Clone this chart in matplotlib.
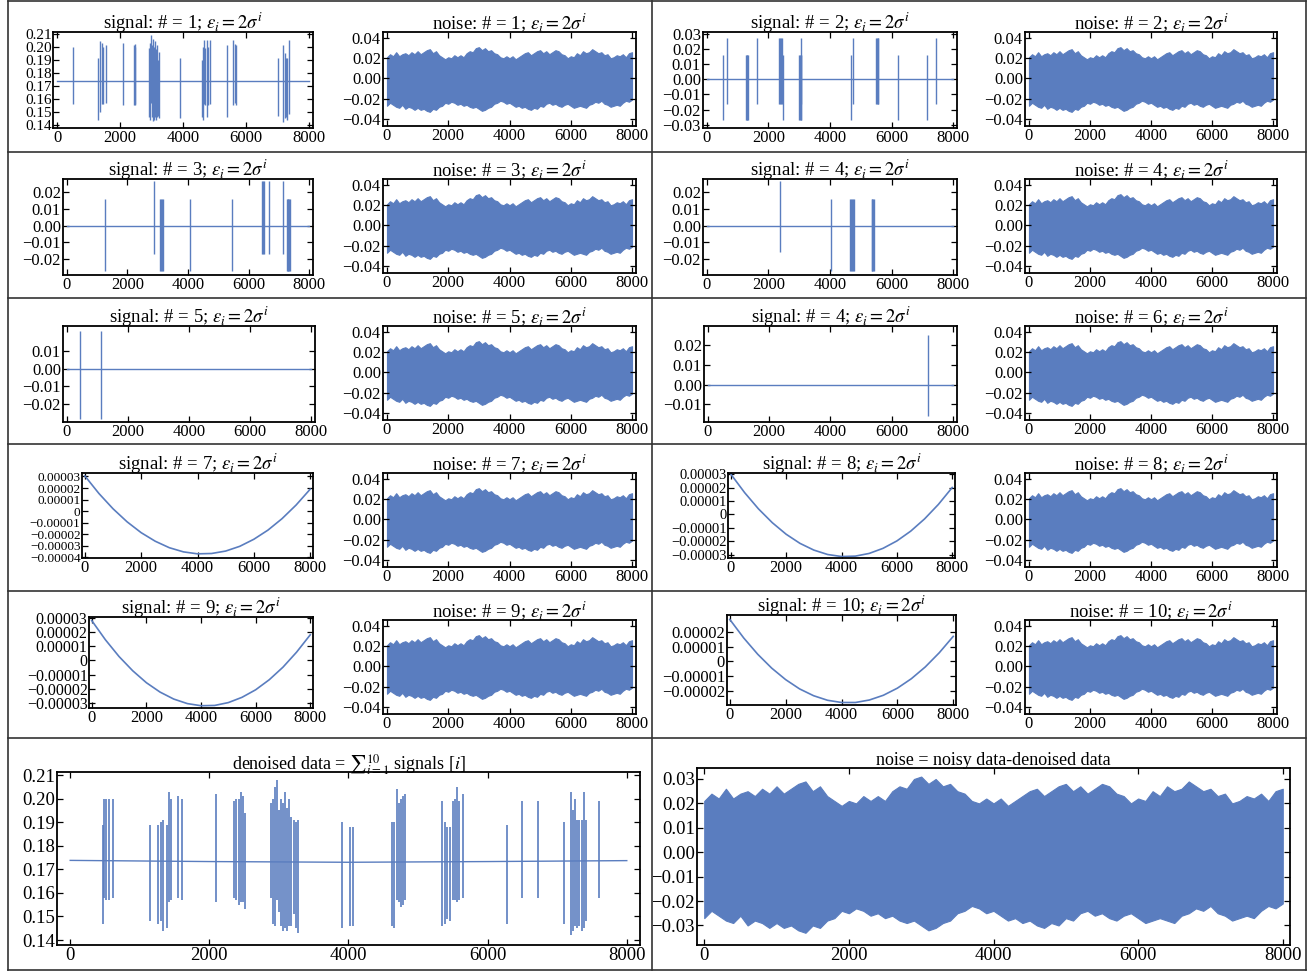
import matplotlib
matplotlib.use("Agg")
import matplotlib.pyplot as plt
from matplotlib.lines import Line2D

plt.rcParams['font.family'] = ['Liberation Serif', 'DejaVu Serif']
plt.rcParams['mathtext.fontset'] = 'stix'

W, H = 1316, 972
BLUE = '#5A7DBF'

# ---------------- data ----------------
x_ticks = [0, 2000, 4000, 6000, 8000]
x_tick_labels = ['0', '2000', '4000', '6000', '8000']

# signal 1 (spikes: position, top, bottom), baseline level
sig1_base = 0.1733
sig1_x = [493, 1312, 1365, 1417, 1470, 1564, 2100, 2436, 2460, 2488, 2929, 2960, 2990, 3020, 3050, 3080,
          3110, 3140, 3170, 3200, 3223, 3905, 4609, 4640, 4680, 4710, 4750, 4790, 4850, 5407, 5585, 5640,
          5690, 7003, 7192, 7230, 7270, 7310, 7370]
sig1_top = [0.200, 0.191, 0.204, 0.203, 0.200, 0.201, 0.203, 0.201, 0.202, 0.200, 0.199, 0.203, 0.209, 0.201,
            0.206, 0.200, 0.204, 0.198, 0.201, 0.190, 0.196, 0.191, 0.190, 0.200, 0.205, 0.199, 0.205, 0.200,
            0.205, 0.201, 0.205, 0.202, 0.201, 0.191, 0.201, 0.195, 0.191, 0.191, 0.205]
sig1_bot = [0.156, 0.144, 0.150, 0.156, 0.156, 0.157, 0.155, 0.155, 0.156, 0.155, 0.146, 0.144, 0.157, 0.146,
            0.143, 0.144, 0.146, 0.144, 0.146, 0.147, 0.145, 0.145, 0.146, 0.144, 0.156, 0.155, 0.146, 0.155,
            0.156, 0.146, 0.155, 0.157, 0.155, 0.147, 0.142, 0.145, 0.146, 0.144, 0.148]
sig1_ticks = [0.14, 0.15, 0.16, 0.17, 0.18, 0.19, 0.20, 0.21]
sig1_labels = ['0.14', '0.15', '0.16', '0.17', '0.18', '0.19', '0.20', '0.21']

sig2_x = [512, 640, 1270, 1290, 1310, 1333, 1621, 2347, 2375, 2405, 2432, 2485, 3008, 3030, 3050, 3061,
          3072, 4672, 4736, 5504, 5525, 5546, 5568, 6208, 7147, 7445]
sig2_top = [0.016, 0.027, 0.016, 0.016, 0.016, 0.016, 0.027, 0.027, 0.027, 0.027, 0.027, 0.016, 0.016, 0.016,
            0.016, 0.027, 0.016, 0.016, 0.027, 0.027, 0.027, 0.027, 0.027, 0.016, 0.016, 0.027]
sig2_bot = [-0.027, -0.016, -0.027, -0.027, -0.027, -0.027, -0.016, -0.016, -0.016, -0.016, -0.016, -0.027,
            -0.027, -0.027, -0.027, -0.016, -0.027, -0.027, -0.016, -0.016, -0.016, -0.016, -0.016, -0.027,
            -0.027, -0.016]
sig2_ticks = [-0.03, -0.02, -0.01, 0.0, 0.01, 0.02, 0.03]
sig2_labels = ['\u22120.03', '\u22120.02', '\u22120.01', '0.00', '0.01', '0.02', '0.03']

sig3_x = [1255, 2893, 3090, 3120, 3150, 3177, 4072, 5459, 6452, 6480, 6507, 6670, 7129, 7260, 7290, 7320,
          7350, 7380]
sig3_top = [0.016, 0.027, 0.016, 0.016, 0.016, 0.016, 0.016, 0.016, 0.027, 0.027, 0.027, 0.027, 0.027, 0.016,
            0.016, 0.016, 0.016, 0.016]
sig3_bot = [-0.027, -0.017, -0.027, -0.027, -0.027, -0.027, -0.027, -0.027, -0.017, -0.017, -0.017, -0.017,
            -0.017, -0.027, -0.027, -0.027, -0.027, -0.027]
sig34_ticks = [-0.02, -0.01, 0.0, 0.01, 0.02]
sig34_labels = ['\u22120.02', '\u22120.01', '0.00', '0.01', '0.02']

sig4_x = [2363, 4026, 4662, 4690, 4720, 4750, 4790, 5351, 5380, 5410, 5436]
sig4_top = [0.027, 0.016, 0.016, 0.016, 0.016, 0.016, 0.016, 0.016, 0.016, 0.016, 0.016]
sig4_bot = [-0.016, -0.027, -0.027, -0.027, -0.027, -0.027, -0.027, -0.027, -0.027, -0.027, -0.027]

sig5_x = [443, 1113]
sig5_top = [0.0215, 0.0215]
sig5_bot = [-0.0285, -0.0285]
sig5_ticks = [-0.02, -0.01, 0.0, 0.01]
sig5_labels = ['\u22120.02', '\u22120.01', '0.00', '0.01']

sig6_x = [7184]
sig6_top = [0.025]
sig6_bot = [-0.0158]
sig6_ticks = [-0.01, 0.0, 0.01, 0.02]
sig6_labels = ['\u22120.01', '0.00', '0.01', '0.02']

# smooth signals 7-10 (values in units of 1e-5) read at x = 0, 500, ..., 8000
smooth_x = [0, 500, 1000, 1500, 2000, 2500, 3000, 3500, 4000, 4500, 5000, 5500, 6000, 6500, 7000, 7500, 8000]
sig7_y = [3.05, 1.53, 0.21, -0.92, -1.86, -2.60, -3.16, -3.52, -3.69, -3.66, -3.45, -3.04, -2.43, -1.64,
          -0.65, 0.53, 1.90]
sig8_y = [3.00, 1.62, 0.41, -0.62, -1.48, -2.16, -2.66, -2.99, -3.14, -3.11, -2.91, -2.53, -1.98, -1.25,
          -0.34, 0.74, 2.00]
sig9_y = [2.80, 1.45, 0.27, -0.73, -1.57, -2.23, -2.72, -3.04, -3.19, -3.17, -2.97, -2.60, -2.07, -1.36,
          -0.48, 0.58, 1.80]
sig10_y = [2.85, 1.59, 0.49, -0.45, -1.23, -1.86, -2.32, -2.63, -2.78, -2.78, -2.61, -2.29, -1.81, -1.17,
           -0.37, 0.59, 1.70]

# noise envelope (upper / lower) at x = 0, 100, ..., 8000
noise_x = list(range(0, 8001, 100))
noise_hi = [0.021, 0.024, 0.022, 0.026, 0.022, 0.024, 0.025, 0.023, 0.026, 0.024,
            0.027, 0.024, 0.026, 0.028, 0.029, 0.025, 0.027, 0.023, 0.021, 0.019,
            0.021, 0.020, 0.023, 0.021, 0.023, 0.021, 0.025, 0.027, 0.026, 0.030,
            0.031, 0.028, 0.030, 0.027, 0.028, 0.025, 0.024, 0.021, 0.020, 0.022,
            0.020, 0.022, 0.019, 0.021, 0.023, 0.025, 0.026, 0.023, 0.025, 0.027,
            0.028, 0.025, 0.027, 0.024, 0.026, 0.028, 0.027, 0.024, 0.023, 0.020,
            0.022, 0.021, 0.025, 0.023, 0.027, 0.025, 0.026, 0.029, 0.027, 0.025,
            0.026, 0.023, 0.024, 0.020, 0.021, 0.023, 0.022, 0.024, 0.021, 0.025,
            0.026]
noise_lo = [-0.027, -0.024, -0.026, -0.028, -0.029, -0.026, -0.030, -0.028, -0.029, -0.031,
            -0.029, -0.031, -0.030, -0.032, -0.033, -0.030, -0.031, -0.028, -0.027, -0.024,
            -0.025, -0.023, -0.024, -0.026, -0.025, -0.027, -0.026, -0.028, -0.029, -0.028,
            -0.030, -0.032, -0.031, -0.029, -0.028, -0.025, -0.024, -0.022, -0.023, -0.025,
            -0.024, -0.026, -0.028, -0.027, -0.029, -0.028, -0.030, -0.031, -0.029, -0.030,
            -0.027, -0.028, -0.025, -0.024, -0.026, -0.025, -0.027, -0.028, -0.026, -0.025,
            -0.027, -0.029, -0.028, -0.027, -0.028, -0.029, -0.026, -0.025, -0.023, -0.024,
            -0.022, -0.025, -0.026, -0.028, -0.027, -0.026, -0.027, -0.024, -0.022, -0.023,
            -0.021]
noise_ticks = [-0.04, -0.02, 0.0, 0.02, 0.04]
noise_labels = ['\u22120.04', '\u22120.02', '0.00', '0.02', '0.04']
noise_big_ticks = [-0.03, -0.02, -0.01, 0.0, 0.01, 0.02, 0.03]
noise_big_labels = ['\u22120.03', '\u22120.02', '\u22120.01', '0.00', '0.01', '0.02', '0.03']

# denoised data: baseline and spikes
den_base_x = [0, 2000, 4000, 6000, 8000]
den_base_y = [0.1738, 0.1733, 0.1730, 0.1733, 0.1737]
den_x = [465, 490, 520, 555, 615, 1140, 1260, 1300, 1340, 1390, 1420, 1450, 1550, 1610, 2090, 2360, 2390,
         2420, 2450, 2480, 2510, 2890, 2910, 2940, 2970, 3000, 3030, 3060, 3090, 3120, 3150, 3180, 3210,
         3240, 3270, 3900, 4020, 4060, 4620, 4650, 4690, 4720, 4750, 4780, 4810, 5350, 5390, 5420, 5460,
         5500, 5530, 5560, 5590, 5640, 6280, 6490, 6730, 7100, 7200, 7230, 7260, 7290, 7320, 7350, 7380,
         7410, 7600]
den_top = [0.189, 0.200, 0.200, 0.200, 0.200, 0.189, 0.189, 0.190, 0.191, 0.189, 0.203, 0.200, 0.201, 0.200,
           0.202, 0.199, 0.200, 0.200, 0.203, 0.201, 0.194, 0.198, 0.200, 0.205, 0.208, 0.195, 0.200, 0.198,
           0.203, 0.196, 0.200, 0.192, 0.191, 0.190, 0.191, 0.190, 0.188, 0.188, 0.190, 0.190, 0.204, 0.198,
           0.200, 0.201, 0.202, 0.199, 0.190, 0.188, 0.188, 0.199, 0.200, 0.205, 0.199, 0.202, 0.189, 0.199,
           0.199, 0.190, 0.203, 0.195, 0.200, 0.191, 0.191, 0.191, 0.203, 0.191, 0.199]
den_bot = [0.147, 0.158, 0.157, 0.157, 0.158, 0.148, 0.147, 0.148, 0.144, 0.145, 0.156, 0.157, 0.158, 0.157,
           0.156, 0.158, 0.157, 0.155, 0.156, 0.156, 0.153, 0.158, 0.147, 0.146, 0.157, 0.152, 0.146, 0.144,
           0.145, 0.144, 0.146, 0.146, 0.151, 0.145, 0.143, 0.145, 0.146, 0.146, 0.146, 0.145, 0.157, 0.156,
           0.154, 0.155, 0.157, 0.146, 0.147, 0.149, 0.148, 0.157, 0.157, 0.156, 0.157, 0.158, 0.147, 0.158,
           0.158, 0.147, 0.142, 0.144, 0.146, 0.145, 0.146, 0.144, 0.145, 0.148, 0.158]

# ---------------- figure ----------------
fig = plt.figure(figsize=(W / 100, H / 100), dpi=100)

TICK_FS = 12
TITLE_FS = 13.5


def add_ax(l, t, r, b):
    return fig.add_axes([l / W, 1 - b / H, (r - l) / W, (b - t) / H])


def style(ax, yticks, ylabels, ylim, xlim=(-130, 8130), fs=TICK_FS, yfs=None, title=None, tfs=TITLE_FS):
    ax.set_xlim(*xlim)
    ax.set_ylim(*ylim)
    ax.set_xticks(x_ticks)
    ax.set_xticklabels(x_tick_labels)
    ax.set_yticks(yticks)
    ax.set_yticklabels(ylabels)
    ax.tick_params(direction='in', top=True, right=True, length=4, width=0.9, labelsize=fs, pad=1.5)
    if yfs is not None:
        ax.tick_params(axis='y', labelsize=yfs, pad=1)
    for s in ax.spines.values():
        s.set_linewidth(1.3)
    if title:
        ax.set_title(title, fontsize=tfs, pad=2)


def spikes(ax, base, xs, tops, bots, lw=1.0):
    ax.plot([0, 8000], [base, base], color=BLUE, lw=1.0)
    ax.vlines(xs, bots, tops, color=BLUE, lw=lw)


def noise(ax):
    ax.fill_between(noise_x, noise_lo, noise_hi, color=BLUE, lw=0.8, edgecolor=BLUE)


def sig_title(n):
    return r"signal: # = %s; $\varepsilon_i = 2\sigma^i$" % n


def noise_title(n):
    return r"noise: # = %s; $\varepsilon_i = 2\sigma^i$" % n


dy = 147
# row 0
ax = add_ax(53, 32, 313, 128)
spikes(ax, sig1_base, sig1_x, sig1_top, sig1_bot)
style(ax, sig1_ticks, sig1_labels, (0.1375, 0.2113), yfs=11, title=sig_title(1))

ax = add_ax(703, 32, 957, 128)
spikes(ax, 0.0, sig2_x, sig2_top, sig2_bot)
style(ax, sig2_ticks, sig2_labels, (-0.032, 0.031), title=sig_title(2))

# row 1
ax = add_ax(63, 32 + dy, 313, 128 + dy)
spikes(ax, 0.0, sig3_x, sig3_top, sig3_bot)
style(ax, sig34_ticks, sig34_labels, (-0.0295, 0.028), title=sig_title(3))

ax = add_ax(703, 32 + dy, 957, 128 + dy)
spikes(ax, 0.0, sig4_x, sig4_top, sig4_bot)
style(ax, sig34_ticks, sig34_labels, (-0.0295, 0.028), title=sig_title(4))

# row 2
ax = add_ax(63, 32 + 2 * dy, 315, 128 + 2 * dy)
spikes(ax, 0.0, sig5_x, sig5_top, sig5_bot)
style(ax, sig5_ticks, sig5_labels, (-0.0305, 0.0245), title=sig_title(5))

ax = add_ax(704, 32 + 2 * dy, 957, 128 + 2 * dy)
spikes(ax, 0.0, sig6_x, sig6_top, sig6_bot)
style(ax, sig6_ticks, sig6_labels, (-0.019, 0.0298), title=sig_title(4))


def smooth(ax, ys):
    ax.plot(smooth_x, [v * 1e-5 for v in ys], color=BLUE, lw=1.2)


def smooth_labels(vals):
    out = []
    for v in vals:
        if v == 0:
            out.append('0')
        elif v < 0:
            out.append('\u2212%.5f' % (-v * 1e-5))
        else:
            out.append('%.5f' % (v * 1e-5))
    return out


t7 = [-4, -3, -2, -1, 0, 1, 2, 3]
t8 = [-3, -2, -1, 0, 1, 2, 3]
t10 = [-2, -1, 0, 1, 2]

ax = add_ax(82, 473, 313, 558)
smooth(ax, sig7_y)
style(ax, [v * 1e-5 for v in t7], smooth_labels(t7), (-4.05e-5, 3.3e-5), xlim=(-100, 8100), yfs=9.5,
      title=sig_title(7))

ax = add_ax(728, 473, 955, 558)
smooth(ax, sig8_y)
style(ax, [v * 1e-5 for v in t8], smooth_labels(t8), (-3.25e-5, 3.08e-5), xlim=(-100, 8100), yfs=10.5,
      title=sig_title(8))

ax = add_ax(89, 617, 313, 708)
smooth(ax, sig9_y)
style(ax, [v * 1e-5 for v in t8], smooth_labels(t8), (-3.35e-5, 3.05e-5), xlim=(-100, 8100), yfs=11.5,
      title=sig_title(9))

ax = add_ax(727, 615, 956, 705)
smooth(ax, sig10_y)
style(ax, [v * 1e-5 for v in t10], smooth_labels(t10), (-2.95e-5, 3.15e-5), xlim=(-100, 8100),
      title=sig_title(10))

# noise panels
for r in range(5):
    for c, (l, rr) in enumerate([(383, 636), (1025, 1277)]):
        n = 2 * r + 1 + c
        ax = add_ax(l, 32 + r * dy, rr, 126 + r * dy)
        noise(ax)
        style(ax, noise_ticks, noise_labels, (-0.047, 0.046), title=noise_title(n))

# bottom left: denoised data
ax = add_ax(57, 772, 640, 945)
ax.plot(den_base_x, den_base_y, color=BLUE, lw=1.0)
ax.vlines(den_x, den_bot, den_top, color=BLUE, lw=1.2)
style(ax, sig1_ticks, sig1_labels, (0.1379, 0.2113), xlim=(-190, 8190), fs=13.5,
      title=r"denoised data = ${\sum}_{i=1}^{10}$ signals [$i$]", tfs=13)

# bottom right: noise
ax = add_ax(697, 768, 1290, 945)
noise(ax)
style(ax, noise_big_ticks, noise_big_labels, (-0.038, 0.0345), xlim=(-100, 8100), fs=13.5,
      title="noise = noisy data-denoised data", tfs=13)


# cell borders
def fline(x0, y0, x1, y1):
    fig.add_artist(Line2D([x0 / W, x1 / W], [1 - y0 / H, 1 - y1 / H], color='#333333', lw=1.2))


fline(8, 1, 1306, 1)
fline(8, 970, 1306, 970)
fline(8, 1, 8, 970)
fline(1306, 1, 1306, 970)
fline(652, 1, 652, 970)
for yy in [152, 298, 444, 591, 738]:
    fline(8, yy, 1306, yy)

fig.savefig("out.png", dpi=100)
